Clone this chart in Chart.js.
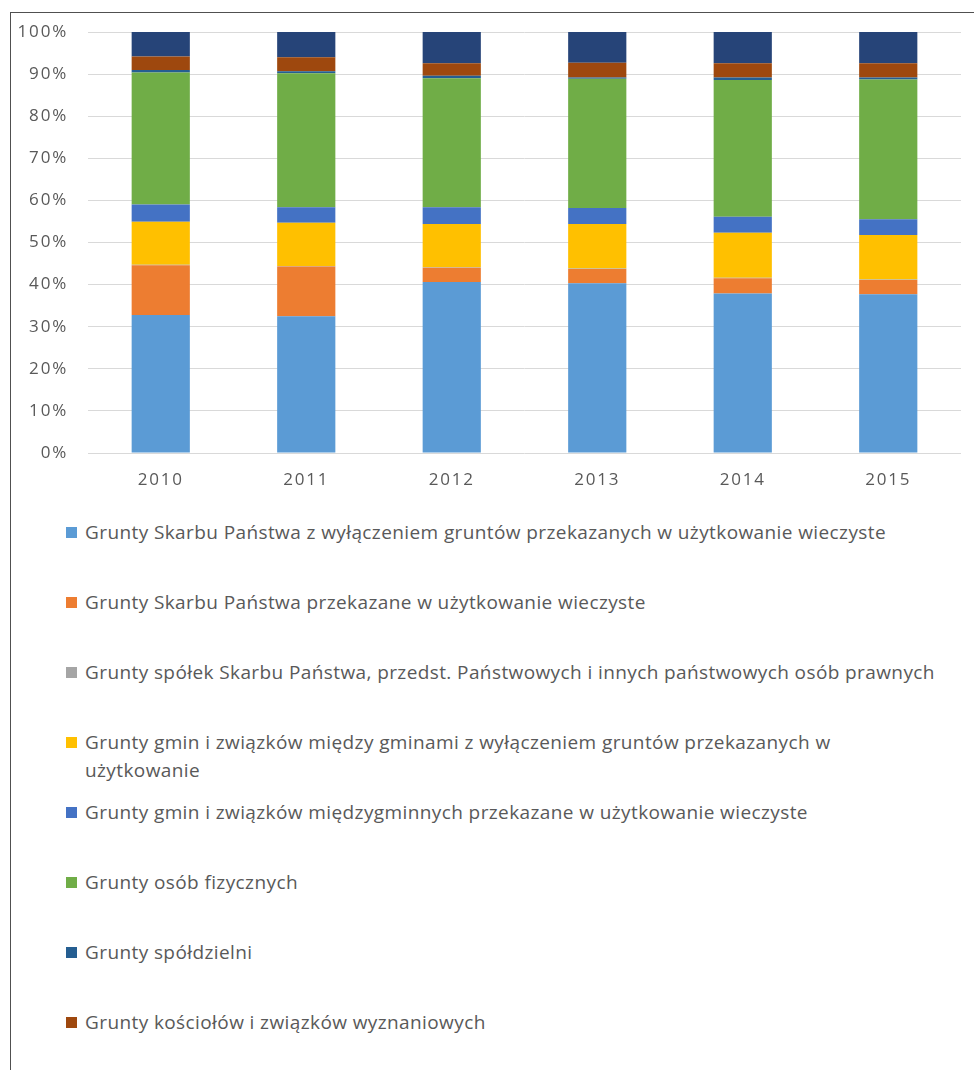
<!DOCTYPE html>
<html>
<head>
<meta charset="utf-8">
<script src="https://cdn.jsdelivr.net/npm/chart.js@4"></script>
<style>
  html, body { margin: 0; padding: 0; background: #fff; }
  #wrap { position: relative; width: 974px; height: 1070px; overflow: hidden; background: #fff; }
  #frameTop { position: absolute; left: 10px; top: 12px; width: 964px; height: 0; border-top: 1px solid #505050; }
  #frameLeft { position: absolute; left: 10px; top: 12px; width: 0; height: 1058px; border-left: 1px solid #505050; }
  #chartBox { position: absolute; left: 0; top: 0; width: 974px; height: 500px; }
  .lg { position: absolute; left: 66px; font-family: "Open Sans", sans-serif; font-size: 19px; letter-spacing: 0.4px; line-height: 28px; color: #595959; white-space: nowrap; }
  .lg .sw { position: absolute; left: 0; top: 9px; width: 11px; height: 11px; }
  .lg .tx { position: absolute; left: 19px; top: 0; }
</style>
</head>
<body>
<div id="wrap">
  <div id="chartBox"><canvas id="c" width="974" height="500"></canvas></div>
  <div id="frameTop"></div>
  <div id="frameLeft"></div>
  <div id="legend"></div>
</div>
<script>
const years = ['2010', '2011', '2012', '2013', '2014', '2015'];

const seriesNames = [
  'Grunty Skarbu Państwa z wyłączeniem gruntów przekazanych w użytkowanie wieczyste',
  'Grunty Skarbu Państwa przekazane w użytkowanie wieczyste',
  'Grunty spółek Skarbu Państwa, przedst. Państwowych i innych państwowych osób prawnych',
  ['Grunty gmin i  związków między gminami z wyłączeniem gruntów przekazanych w', 'użytkowanie'],
  'Grunty gmin i  związków międzygminnych przekazane w użytkowanie wieczyste',
  'Grunty osób fizycznych',
  'Grunty spółdzielni',
  'Grunty kościołów i związków wyznaniowych',
  'Pozostałe grunty'
];

const skarbPanstwa      = [32.8, 32.5, 40.6, 40.3, 37.9, 37.7];
const skarbUzytkowanie  = [11.8, 11.8, 3.4, 3.4, 3.6, 3.4];
const spolkiSkarbu      = [0.1, 0.1, 0.1, 0.1, 0.1, 0.1];
const gminy             = [10.2, 10.3, 10.3, 10.6, 10.7, 10.6];
const gminyUzytkowanie  = [4.1, 3.7, 4.0, 3.8, 3.8, 3.7];
const osobyFizyczne     = [31.4, 31.8, 30.6, 30.7, 32.5, 33.2];
const spoldzielnie      = [0.6, 0.5, 0.6, 0.3, 0.6, 0.5];
const koscioly          = [3.2, 3.3, 3.0, 3.5, 3.4, 3.4];
const pozostale         = [5.8, 6.0, 7.4, 7.3, 7.4, 7.4];

const yTicks = [0, 10, 20, 30, 40, 50, 60, 70, 80, 90, 100];

const seriesValues = [skarbPanstwa, skarbUzytkowanie, spolkiSkarbu, gminy, gminyUzytkowanie, osobyFizyczne, spoldzielnie, koscioly, pozostale];
const seriesColors = ['#5B9BD5', '#ED7D31', '#A5A5A5', '#FFC000', '#4472C4', '#70AD47', '#255E91', '#9E480E', '#264478'];
const legendCount = 8;

const datasets = seriesValues.map((vals, i) => ({
  label: Array.isArray(seriesNames[i]) ? seriesNames[i].join(' ') : seriesNames[i],
  data: vals,
  backgroundColor: seriesColors[i],
  borderWidth: 0,
  barPercentage: 0.4,
  categoryPercentage: 1.0,
  stack: 's'
}));

const spacingPlugin = {
  id: 'spacing',
  beforeDraw(chart) { chart.ctx.letterSpacing = '1.8px'; }
};

new Chart(document.getElementById('c'), {
  type: 'bar',
  data: { labels: years, datasets: datasets },
  plugins: [spacingPlugin],
  options: {
    responsive: false,
    animation: false,
    layout: { padding: { top: 32, right: 13, left: 0, bottom: 0 } },
    plugins: { legend: { display: false }, tooltip: { enabled: false } },
    scales: {
      x: {
        stacked: true,
        grid: { display: false, drawTicks: false },
        border: { display: false },
        ticks: { color: '#595959', font: { family: 'Open Sans', size: 17 }, padding: 17 },
        afterFit(s) { s.height = 47; }
      },
      y: {
        stacked: true,
        min: 0,
        max: 100,
        afterBuildTicks(s) { s.ticks = yTicks.map(v => ({ value: v })); },
        grid: { color: '#d9d9d9', lineWidth: 1, drawTicks: false },
        border: { display: false },
        ticks: {
          color: '#595959',
          font: { family: 'Open Sans', size: 17 },
          padding: 20,
          callback: v => v + '%'
        },
        afterFit(s) { s.width = 88; }
      }
    }
  }
});

const legend = document.getElementById('legend');
for (let i = 0; i < legendCount; i++) {
  const item = document.createElement('div');
  item.className = 'lg';
  item.style.top = (532 + 70 * i - 14) + 'px';
  const sw = document.createElement('div');
  sw.className = 'sw';
  sw.style.background = seriesColors[i];
  const tx = document.createElement('div');
  tx.className = 'tx';
  const name = seriesNames[i];
  (Array.isArray(name) ? name : [name]).forEach((line, k) => {
    if (k > 0) tx.appendChild(document.createElement('br'));
    tx.appendChild(document.createTextNode(line));
  });
  item.appendChild(sw);
  item.appendChild(tx);
  legend.appendChild(item);
}
</script>
</body>
</html>
